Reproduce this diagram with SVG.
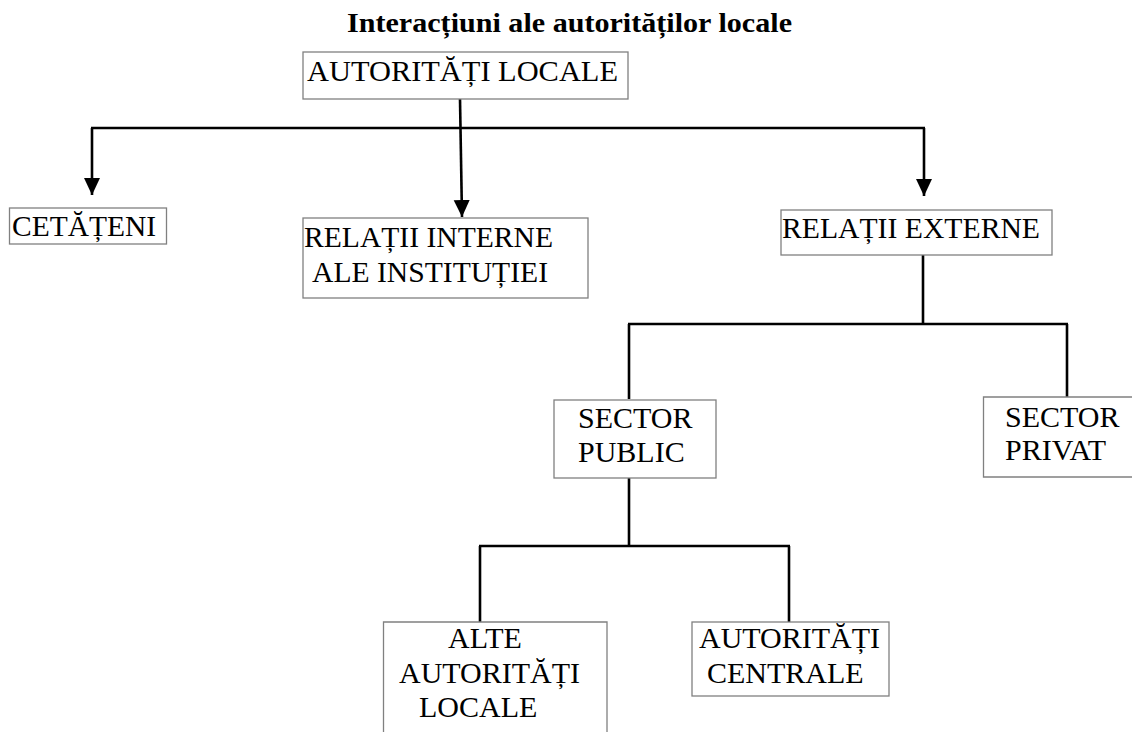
<svg xmlns="http://www.w3.org/2000/svg" width="1132" height="732" viewBox="0 0 1132 732">
<style>
.box{fill:#fff;stroke:#808080;stroke-width:1.3}
.t{font-family:"Liberation Serif","Times New Roman",serif;font-size:30px;fill:#000}
.title{font-family:"Liberation Serif","Times New Roman",serif;font-size:28px;font-weight:bold;fill:#000}
.c{fill:none;stroke:#000;stroke-width:2.6}
</style>
<defs>
<marker id="arr" markerUnits="userSpaceOnUse" markerWidth="18" markerHeight="18" viewBox="0 0 18 18" refX="17" refY="9" orient="auto">
<path d="M0,1 L17,9 L0,17 Z" fill="#000"/>
</marker>
</defs>
<rect width="1132" height="732" fill="#fff"/>
<text class="title" x="347" y="32" textLength="445" lengthAdjust="spacingAndGlyphs">Interacțiuni ale autorităților locale</text>
<g id="connectors">
<line class="c" x1="460" y1="99" x2="462" y2="217" marker-end="url(#arr)"/>
<line class="c" x1="91" y1="128" x2="925" y2="128"/>
<line class="c" x1="92" y1="128" x2="92" y2="195" marker-end="url(#arr)"/>
<line class="c" x1="924" y1="128" x2="924" y2="196" marker-end="url(#arr)"/>
<line class="c" x1="923" y1="255" x2="923" y2="324"/>
<line class="c" x1="628" y1="324" x2="1068" y2="324"/>
<line class="c" x1="629" y1="324" x2="629" y2="399"/>
<line class="c" x1="1067" y1="324" x2="1067" y2="397"/>
<line class="c" x1="629" y1="478" x2="629" y2="546"/>
<line class="c" x1="479" y1="546" x2="790" y2="546"/>
<line class="c" x1="480" y1="546" x2="480" y2="622"/>
<line class="c" x1="789" y1="546" x2="789" y2="622"/>
</g>
<g id="autoritati-locale">
<rect class="box" x="303" y="52" width="325" height="47"/>
<text class="t" x="307" y="81" textLength="311" lengthAdjust="spacingAndGlyphs">AUTORITĂȚI LOCALE</text>
</g>
<g id="cetateni">
<rect class="box" x="9.5" y="208" width="157" height="36"/>
<text class="t" x="12" y="236" textLength="144" lengthAdjust="spacingAndGlyphs">CETĂȚENI</text>
</g>
<g id="relatii-interne">
<rect class="box" x="303" y="218" width="285" height="80"/>
<text class="t" x="304" y="247" textLength="249" lengthAdjust="spacingAndGlyphs">RELAȚII INTERNE</text>
<text class="t" x="312" y="282" textLength="236" lengthAdjust="spacingAndGlyphs">ALE INSTITUȚIEI</text>
</g>
<g id="relatii-externe">
<rect class="box" x="781" y="210" width="271" height="45"/>
<text class="t" x="782" y="238" textLength="258" lengthAdjust="spacingAndGlyphs">RELAȚII EXTERNE</text>
</g>
<g id="sector-public">
<rect class="box" x="554" y="400" width="162" height="78"/>
<text class="t" x="578" y="428">SECTOR</text>
<text class="t" x="578" y="462">PUBLIC</text>
</g>
<g id="sector-privat">
<path class="box" d="M1133,397 H983.5 V477 H1133"/>
<text class="t" x="1005" y="427">SECTOR</text>
<text class="t" x="1005" y="460">PRIVAT</text>
</g>
<g id="alte-autoritati-locale">
<path class="box" d="M383.5,734 V622 H607 V734"/>
<text class="t" x="448" y="648">ALTE</text>
<text class="t" x="399" y="683">AUTORITĂȚI</text>
<text class="t" x="419" y="717">LOCALE</text>
</g>
<g id="autoritati-centrale">
<rect class="box" x="692" y="622" width="197" height="74"/>
<text class="t" x="699" y="648">AUTORITĂȚI</text>
<text class="t" x="707" y="683">CENTRALE</text>
</g>
</svg>
